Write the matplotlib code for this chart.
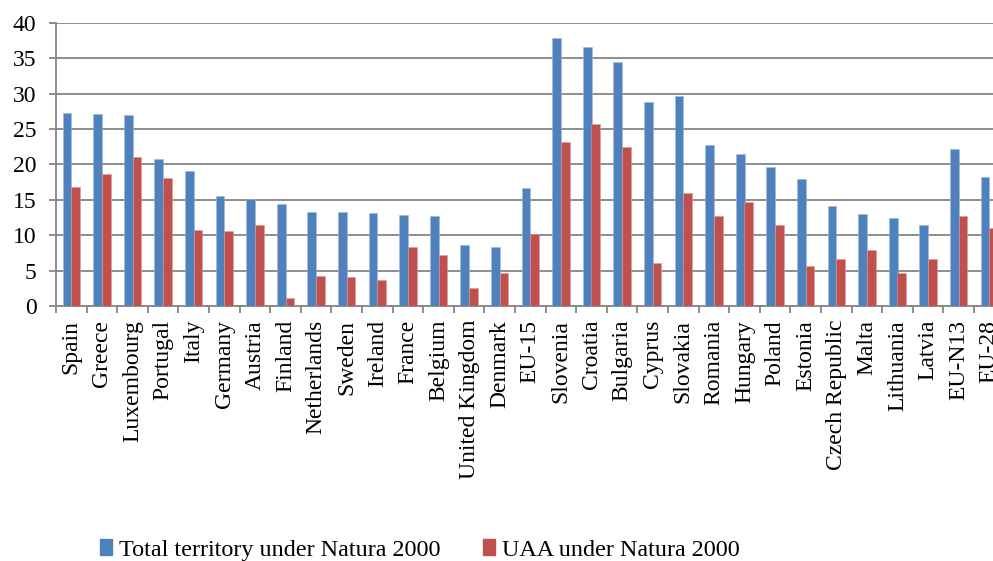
import matplotlib.pyplot as plt
import numpy as np
from matplotlib.patches import Rectangle
from matplotlib.ticker import FixedLocator

plt.rcParams['font.family'] = ['Liberation Serif', 'DejaVu Serif']

countries = ['Spain', 'Greece', 'Luxembourg', 'Portugal', 'Italy', 'Germany', 'Austria',
             'Finland', 'Netherlands', 'Sweden', 'Ireland', 'France', 'Belgium',
             'United Kingdom', 'Denmark', 'EU-15', 'Slovenia', 'Croatia', 'Bulgaria',
             'Cyprus', 'Slovakia', 'Romania', 'Hungary', 'Poland', 'Estonia',
             'Czech Republic', 'Malta', 'Lithuania', 'Latvia', 'EU-N13', 'EU-28']
total = [27.3, 27.1, 27.0, 20.7, 19.0, 15.5, 15.1, 14.4, 13.3, 13.3, 13.1, 12.8, 12.7,
         8.6, 8.3, 16.7, 37.9, 36.6, 34.5, 28.8, 29.6, 22.7, 21.4, 19.6, 17.9,
         14.1, 13.0, 12.4, 11.5, 22.2, 18.2]
uaa = [16.8, 18.7, 21.1, 18.1, 10.8, 10.6, 11.5, 1.2, 4.3, 4.1, 3.7, 8.3, 7.2,
       2.5, 4.7, 10.2, 23.2, 25.7, 22.4, 6.1, 16.0, 12.7, 14.7, 11.5, 5.6,
       6.6, 7.9, 4.6, 6.6, 12.7, 11.0]

blue = '#4F81BD'
red = '#C0504D'
grid = '#858585'

fig = plt.figure(figsize=(9.93, 5.61), dpi=100)
# axes run past the right edge, so EU-28 is cut off like in the original
ax = fig.add_axes([56 / 993, 1 - 306 / 561, 948.6 / 993, 283.3 / 561])

x = np.arange(len(countries))
w = 0.285
ax.bar(x - w / 2, total, w, color=blue, edgecolor='#9db8dc', linewidth=0.4, zorder=3)
ax.bar(x + w / 2, uaa, w, color=red, edgecolor='#dc9b99', linewidth=0.4, zorder=3)

ax.set_xlim(-0.5, len(countries) - 0.5)
ax.set_ylim(0, 40)
ax.set_yticks(range(0, 41, 5))
ax.yaxis.grid(True, color=grid, linewidth=1.3, zorder=0)

ax.set_xticks(x)
ax.set_xticklabels(countries, rotation=90, fontsize=17)
ax.xaxis.set_minor_locator(FixedLocator(np.arange(-0.5, len(countries), 1)))
ax.tick_params(axis='x', which='major', length=0, pad=10)
ax.tick_params(axis='x', which='minor', length=5, width=1.3, color=grid, direction='out')
ax.tick_params(axis='y', length=5, width=1.3, color=grid, direction='out', labelsize=17, pad=9)

for s in ['top', 'right']:
    ax.spines[s].set_visible(False)
for s in ['left', 'bottom']:
    ax.spines[s].set_color(grid)
    ax.spines[s].set_linewidth(1.3)

handles = [Rectangle((0, 0), 1, 1, color=blue), Rectangle((0, 0), 1, 1, color=red)]
fig.legend(handles, ['Total territory under Natura 2000', 'UAA under Natura 2000'],
           loc='center left', bbox_to_anchor=(100 / 993, 1 - 550 / 561), ncol=2,
           frameon=False, fontsize=17.4, handlelength=0.5, handleheight=0.6,
           handletextpad=0.3, columnspacing=1.75, borderpad=0, borderaxespad=0)

fig.savefig('out.png', dpi=100)
